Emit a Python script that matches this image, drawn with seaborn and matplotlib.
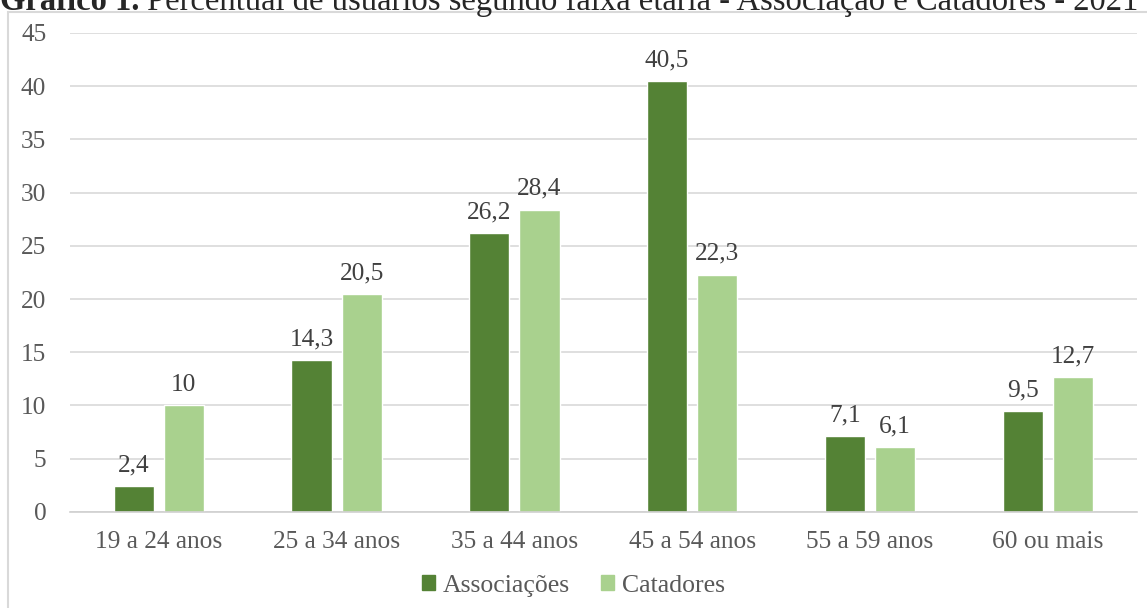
import pandas as pd
import numpy as np
import matplotlib
matplotlib.use("Agg")
import matplotlib.pyplot as plt
import matplotlib.patches as mpatches
import seaborn as sns

faixas = ["19 a 24 anos", "25 a 34 anos", "35 a 44 anos", "45 a 54 anos", "55 a 59 anos", "60 ou mais"]
associacoes = [2.4, 14.3, 26.2, 40.5, 7.1, 9.5]
catadores = [10, 20.5, 28.4, 22.3, 6.1, 12.7]
series = ["Associações", "Catadores"]
cores = ["#548235", "#a9d18e"]

df = pd.DataFrame({
    "faixa": faixas * 2,
    "valor": associacoes + catadores,
    "grupo": [series[0]] * len(faixas) + [series[1]] * len(faixas),
})

sns.set_style("white")
plt.rcParams["font.family"] = ["Liberation Serif", "DejaVu Serif"]

fig = plt.figure(figsize=(11.47, 6.08), dpi=100)
ax = fig.add_axes([0.061, 0.158, 0.93, 0.788])

sns.barplot(data=df, x="faixa", y="valor", hue="grupo", palette=cores,
            width=0.565, gap=0.2, ax=ax, legend=False, saturation=1)

# rotulos de valor com virgula
for cont, vals in zip(ax.containers, [associacoes, catadores]):
    ax.bar_label(cont, labels=[f"{v:g}".replace(".", ",") for v in vals],
                 padding=7, fontsize=18.3, color="#404040")

ax.set_ylim(0, 45)
ax.set_yticks(np.arange(0, 46, 5))
ax.set_xlim(-0.5, 5.5)
ax.grid(axis="y", color="#d9d9d9", linewidth=1.2)
ax.set_axisbelow(True)
for s in ["top", "right", "left"]:
    ax.spines[s].set_visible(False)
ax.spines["bottom"].set_color("#d0d0d0")
ax.spines["bottom"].set_linewidth(1.2)
ax.tick_params(axis="both", length=0, labelsize=18.3, labelcolor="#595959")
ax.tick_params(axis="y", pad=17)
ax.tick_params(axis="x", pad=14)
ax.set_xlabel("")
ax.set_ylabel("")

handles = [mpatches.Patch(color=c, label=l) for c, l in zip(cores, series)]
leg = fig.legend(handles=handles, loc="center", bbox_to_anchor=(0.5, 0.037), ncol=2,
                 frameon=False, fontsize=18.5, handlelength=0.5, handleheight=0.5,
                 handletextpad=0.3, columnspacing=1.2)
for t in leg.get_texts():
    t.set_color("#595959")

# moldura do grafico
fig.patches.append(mpatches.Rectangle((8 / 1147, -0.1), 1.2, 1.1 - 12 / 608, fill=False,
                                      edgecolor="#d9d9d9", linewidth=1.5,
                                      transform=fig.transFigure, figure=fig))

# titulo cortado no topo, como no original
t1 = fig.text(0.0, 1 - 17 / 608, "Gráfico 1.", fontsize=23.5, fontweight="bold", va="bottom", ha="left")
fig.add_artist(plt.Annotation(" Percentual de usuários segundo faixa etária - Associação e Catadores - 2021",
                              xy=(1, 0), xycoords=t1, va="bottom", ha="left", fontsize=23.5))

fig.savefig("out.png", dpi=100)
